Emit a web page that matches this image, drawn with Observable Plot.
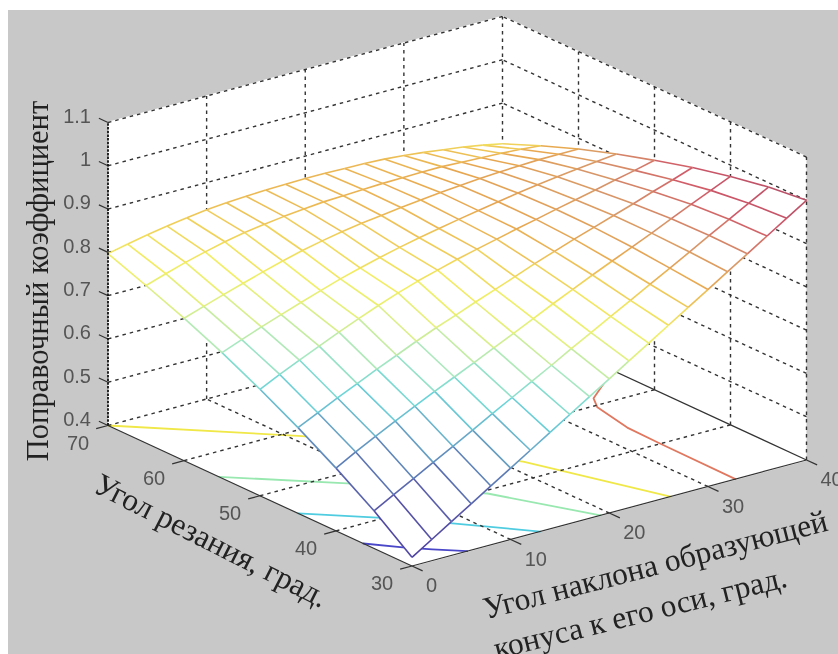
<!DOCTYPE html>
<html lang="ru">
<head>
<meta charset="utf-8">
<script src="https://cdn.jsdelivr.net/npm/d3@7"></script>
<script src="https://cdn.jsdelivr.net/npm/@observablehq/plot@0.6"></script>
<style>
html,body{margin:0;padding:0;background:#fff;width:838px;height:654px;overflow:hidden}
#panel{position:absolute;left:0;top:0;width:838px;height:654px;overflow:hidden}
#gray{position:absolute;left:8px;top:10px;right:0;bottom:0;background:#c8c8c8}
#panel svg{position:absolute;left:0;top:0;background:transparent;filter:blur(0.45px)}
</style>
</head>
<body>
<div id="panel"><div id="gray"></div></div>
<script>
// Angle of the cone generatrix (x), cutting angle (y)
const xValues = [0,2,4,6,8,10,12,14,16,18,20,22,24,26,28,30,32,34,36,38,40];
const yValues = [30,35,40,45,50,55,60,65,70];
// Correction coefficient, one list per cutting angle
const zAt30 = [.42,.449,.478,.507,.536,.565,.594,.623,.652,.681,.71,.739,.768,.797,.826,.855,.884,.913,.942,.971,1.0];
const zAt35 = [.487,.512,.537,.562,.587,.612,.638,.663,.688,.713,.739,.764,.789,.814,.839,.864,.889,.915,.94,.965,.99];
const zAt40 = [.545,.57,.594,.617,.639,.661,.682,.703,.725,.746,.768,.79,.811,.832,.852,.872,.892,.913,.934,.954,.974];
const zAt45 = [.598,.62,.642,.663,.684,.704,.724,.743,.76,.778,.795,.812,.83,.846,.862,.877,.892,.907,.923,.938,.954];
const zAt50 = [.646,.668,.689,.709,.729,.748,.766,.783,.798,.811,.824,.835,.846,.857,.867,.878,.888,.898,.909,.919,.93];
const zAt55 = [.69,.708,.725,.741,.757,.772,.787,.80,.812,.823,.833,.842,.851,.859,.867,.875,.882,.888,.894,.899,.904];
const zAt60 = [.729,.744,.759,.773,.787,.80,.812,.822,.831,.838,.844,.85,.855,.86,.864,.868,.871,.873,.875,.875,.875];
const zAt65 = [.764,.779,.793,.805,.816,.825,.832,.838,.843,.847,.849,.851,.853,.854,.855,.855,.853,.851,.849,.846,.842];
const zAt70 = [.797,.807,.816,.824,.831,.837,.841,.844,.846,.847,.848,.848,.847,.846,.844,.84,.835,.829,.823,.815,.806];
const zRows = [zAt30,zAt35,zAt40,zAt45,zAt50,zAt55,zAt60,zAt65,zAt70];
// Floor contours: [x, y] pairs per level
const contour50 = [[0,36.4],[2,33.8],[3.6,32],[5.6,30]];
const contour60 = [[0,45],[4.5,40.4],[8.5,35.7],[13,30]];
const contour70 = [[0,55.4],[7.3,48],[14.9,39.4],[19.1,30]];
const contour80 = [[0,70],[11,58.7],[21.6,43.4],[26.2,30]];
const contour90 = [[32.8,30],[32.9,40],[33,44.5],[33.9,49.6],[34.9,51.4],[40,55.5]];
const contourLevels = [[.5,contour50],[.6,contour60],[.7,contour70],[.8,contour80],[.9,contour90]];
const contourColors = ["#4a48c8","#50cce0","#98e8b0","#f0e848","#e07860"];
// Axis ticks and titles
const xTicks = [0,10,20,30,40];
const yTicks = [30,40,50,60,70];
const zTicks = [.4,.5,.6,.7,.8,.9,1,1.1];
const zTickLabels = ["0.4","0.5","0.6","0.7","0.8","0.9","1","1.1"];
const zTitle = "Поправочный коэффициент";
const yTitle = "Угол резания, град.";
const xTitle1 = "Угол наклона образующей";
const xTitle2 = "конуса к его оси, град.";
const colorStops = [.42,.5,.56,.6,.65,.7,.75,.79,.83,.86,.9,.95,1];
const colorRange = ["#4a3ca0","#5858a8","#5c80b8","#68a8c8","#68d4d8","#a8e8c0","#e0f080","#f2ee60","#f0cc58","#e8a850","#d89868","#d05868","#b85068"];

// 3D view (orthographic), built from the box's screen corners
const view = {ox:411.5, oy:565.5, xdx:394.5, xdy:-106, ydx:-304, ydy:-140.5, zdy:-303};
const px = (x,y,z) => view.ox + view.xdx*x/40 + view.ydx*(y-30)/40;
const py = (x,y,z) => view.oy + view.xdy*x/40 + view.ydy*(y-30)/40 + view.zdy*(z-.4)/.7;
const P = (x,y,z) => ({X:px(x,y,z),Y:py(x,y,z),z});
const seg = (a,b) => { const A=P(...a),B=P(...b); return {x1:A.X,y1:A.Y,x2:B.X,y2:B.Y,z:(a[2]+b[2])/2}; };
const poly = (id,pts) => pts.map(p => ({...P(...p),id}));

// Box walls and floor
const walls = [
  ...poly("a",[[0,70,.4],[40,70,.4],[40,70,1.1],[0,70,1.1]]),
  ...poly("b",[[40,30,.4],[40,70,.4],[40,70,1.1],[40,30,1.1]]),
  ...poly("c",[[0,30,.4],[40,30,.4],[40,70,.4],[0,70,.4]])
];
// Dashed grid
const grid = [];
for (const z of zTicks) { grid.push(seg([0,70,z],[40,70,z])); if (z > .4) grid.push(seg([40,30,z],[40,70,z])); }
for (const x of xTicks.slice(1)) grid.push(seg([x,70,.4],[x,70,1.1]));
for (const x of xTicks.slice(1,4)) grid.push(seg([x,30,.4],[x,70,.4]));
for (const y of yTicks.slice(0,4)) grid.push(seg([40,y,.4],[40,y,1.1]));
for (const y of yTicks.slice(1,4)) grid.push(seg([0,y,.4],[40,y,.4]));
// Solid floor edge behind the surface, axis lines and ticks in front of it
const backEdge = [seg([40,30,.4],[40,70,.4])];
const axes = [seg([0,70,.4],[0,30,.4]), seg([0,30,.4],[40,30,.4])];
for (const z of zTicks) axes.push(seg([0,70,z],[0,71.2,z]));
for (const x of xTicks) axes.push(seg([x,30,.4],[x,28.6,.4]));
for (const y of yTicks) axes.push(seg([0,y,.4],[-1.2,y,.4]));
const leftEdge = [seg([0,70,.4],[0,70,1.1])];
// Contours on floor
const contourLines = contourLevels.flatMap(([level,pts],k) =>
  pts.map(([x,y]) => ({X:px(x,y,.4),Y:py(x,y,.4),c:contourColors[k],k})));
// Surface cells and mesh segments
const quads = [], mesh = [];
yValues.forEach((y,j) => xValues.forEach((x,i) => {
  const v = [x,y,zRows[j][i]];
  if (i < xValues.length-1) mesh.push(seg(v,[xValues[i+1],y,zRows[j][i+1]]));
  if (j < yValues.length-1) mesh.push(seg(v,[x,yValues[j+1],zRows[j+1][i]]));
  if (i < xValues.length-1 && j < yValues.length-1)
    quads.push(...poly(i+"_"+j,[v,[xValues[i+1],y,zRows[j][i+1]],[xValues[i+1],yValues[j+1],zRows[j+1][i+1]],[x,yValues[j+1],zRows[j+1][i]]]));
}));

const tickFont = {fontFamily:"'Liberation Sans',Arial,sans-serif", fontSize:20, fill:"#555"};
const titleFont = {fontFamily:"'Liberation Serif','Times New Roman',serif", fontSize:31.5, fill:"#222"};
const anchor = (x,y,z) => [{X:px(x,y,z),Y:py(x,y,z)}];

const chart = Plot.plot({
  width:838, height:654, margin:0,
  x:{domain:[0,838],range:[0,838],axis:null},
  y:{domain:[0,654],range:[0,654],axis:null},
  color:{type:"linear",domain:colorStops,range:colorRange,clamp:true},
  style:{background:"transparent"},
  marks:[
    Plot.line(walls,{x:"X",y:"Y",z:"id",fill:"white",stroke:"white"}),
    Plot.line(contourLines,{x:"X",y:"Y",z:"k",stroke:d=>d.c,strokeWidth:1.8}),
    Plot.link(grid,{x1:"x1",y1:"y1",x2:"x2",y2:"y2",stroke:"#333",strokeWidth:1.4,strokeDasharray:"3.5,4"}),
    Plot.link(backEdge,{x1:"x1",y1:"y1",x2:"x2",y2:"y2",stroke:"#333",strokeWidth:1.2}),
    Plot.line(quads,{x:"X",y:"Y",z:"id",fill:"white",stroke:"white",strokeWidth:.5}),
    Plot.link(mesh,{x1:"x1",y1:"y1",x2:"x2",y2:"y2",stroke:"z",strokeWidth:1.6}),
    Plot.link(axes,{x1:"x1",y1:"y1",x2:"x2",y2:"y2",stroke:"#333",strokeWidth:1.2}),
    Plot.link(leftEdge,{x1:"x1",y1:"y1",x2:"x2",y2:"y2",stroke:"#111",strokeWidth:1.8,strokeDasharray:"2.5,1.2"}),
    Plot.text(zTicks.map((z,i)=>({X:px(0,70,z),Y:py(0,70,z),t:zTickLabels[i]})),{x:"X",y:"Y",text:"t",textAnchor:"end",dx:-17,dy:-6,...tickFont}),
    Plot.text(xTicks.map(x=>({X:px(x,30,.4),Y:py(x,30,.4),t:String(x)})),{x:"X",y:"Y",text:"t",textAnchor:"start",dx:14,dy:20,...tickFont}),
    Plot.text(yTicks.map(y=>({X:px(0,y,.4),Y:py(0,y,.4),t:String(y)})),{x:"X",y:"Y",text:"t",dx:-30,dy:18,...tickFont}),
    Plot.text(anchor(0,70,.75),{x:"X",y:"Y",text:()=>zTitle,rotate:-90,dx:-70,dy:7,...titleFont,fontSize:30.5}),
    Plot.text(anchor(0,50,.4),{x:"X",y:"Y",text:()=>yTitle,rotate:27,dx:-49,dy:45,...titleFont}),
    Plot.text(anchor(20,30,.4),{x:"X",y:"Y",text:()=>xTitle1,rotate:-14.5,dx:46,dy:52,...titleFont}),
    Plot.text(anchor(20,30,.4),{x:"X",y:"Y",text:()=>xTitle2,rotate:-14,dx:31,dy:100,...titleFont})
  ]
});
document.getElementById("panel").appendChild(chart);
</script>
</body>
</html>
